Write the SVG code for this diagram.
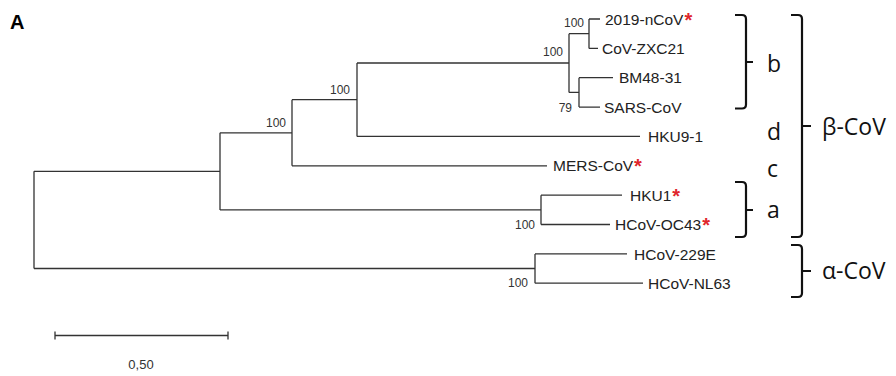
<svg xmlns="http://www.w3.org/2000/svg" width="896" height="376" viewBox="0 0 896 376">
<style>
.br{stroke:#333;stroke-width:1.3;fill:none}
.lf{font-family:"Liberation Sans",Arial,sans-serif;font-size:15.5px;fill:#222}
.bs{font-family:"Liberation Sans",Arial,sans-serif;font-size:12px;fill:#333;text-anchor:end}
.ast{fill:#e0262c;font-weight:bold;font-size:20px}
.bk{stroke:#111;stroke-width:2.2;fill:none}
.cl{font-family:"Open Sans","Liberation Sans",sans-serif;font-size:23px;fill:#111}
</style>
<rect width="896" height="376" fill="#fff"/>
<text x="10" y="29" font-family="Liberation Sans,Arial,sans-serif" font-weight="bold" font-size="20" fill="#000">A</text>

<g id="connectors">
<path class="br" d="M34 171.3V268.5 M34 171.3H220 M34 268.5H535
M220 132.8V209.9 M220 132.8H292 M220 209.9H541
M292 99.7V165.8 M292 99.7H357 M292 165.8H547
M357 63V136.4 M357 63H569 M357 136.4H640
M569 33.7V92.4 M569 33.7H589 M569 92.4H579
M589 19V48.4 M589 19H600 M589 48.4H598
M579 77.7V107.1 M579 77.7H613 M579 107.1H600
M541 195.2V224.5 M541 195.2H622 M541 224.5H610
M535 253.9V283.2 M535 253.9H627 M535 283.2H643"/>
</g>

<g id="bootstrap">
<text class="bs" x="584" y="27">100</text>
<text class="bs" x="563" y="56">100</text>
<text class="bs" x="572" y="111.5">79</text>
<text class="bs" x="350" y="94">100</text>
<text class="bs" x="286" y="126.5">100</text>
<text class="bs" x="535" y="228.5">100</text>
<text class="bs" x="528" y="286.5">100</text>
</g>

<g id="n-2019-nCoV"><text class="lf" x="605" y="24.6">2019-nCoV<tspan class="ast" dx="1" dy="2">*</tspan></text></g>
<g id="n-CoV-ZXC21"><text class="lf" x="602" y="54">CoV-ZXC21</text></g>
<g id="n-BM48-31"><text class="lf" x="619" y="83.3">BM48-31</text></g>
<g id="n-SARS-CoV"><text class="lf" x="604" y="112.7">SARS-CoV</text></g>
<g id="n-HKU9-1"><text class="lf" x="648" y="142">HKU9-1</text></g>
<g id="n-MERS-CoV"><text class="lf" x="553" y="171.4">MERS-CoV<tspan class="ast" dx="1" dy="2">*</tspan></text></g>
<g id="n-HKU1"><text class="lf" x="630" y="200.8">HKU1<tspan class="ast" dx="1" dy="2">*</tspan></text></g>
<g id="n-HCoV-OC43"><text class="lf" x="615" y="230.1">HCoV-OC43<tspan class="ast" dx="1" dy="2">*</tspan></text></g>
<g id="n-HCoV-229E"><text class="lf" x="634" y="259.5">HCoV-229E</text></g>
<g id="n-HCoV-NL63"><text class="lf" x="648" y="288.8">HCoV-NL63</text></g>

<g id="clade-b"><path class="bk" d="M735 15h7q4 0 4 4v85.5q0 4-4 4h-7M746 62h7"/><text class="cl" x="767" y="71.5">b</text></g>
<g id="clade-d"><text class="cl" x="767" y="140">d</text></g>
<g id="clade-c"><text class="cl" x="767" y="177">c</text></g>
<g id="clade-a"><path class="bk" d="M735 182h7q4 0 4 4v47q0 4-4 4h-7M746 210h7"/><text class="cl" x="767" y="217.5">a</text></g>
<g id="beta-CoV"><path class="bk" d="M791 15h7q4 0 4 4v214q0 4-4 4h-7M802 126h9"/><text class="cl" x="822" y="134.5">β-CoV</text></g>
<g id="alpha-CoV"><path class="bk" d="M791 245h7q4 0 4 4v44q0 4-4 4h-7M802 271h9"/><text class="cl" x="822" y="279">α-CoV</text></g>

<g id="scale-bar">
<path stroke="#333" stroke-width="1.3" fill="none" d="M55 335.5H228M55 331.5V339.5M228 331.5V339.5"/>
<text x="141" y="369" text-anchor="middle" font-family="Liberation Sans,Arial,sans-serif" font-size="13" fill="#333">0,50</text>
</g>
</svg>
